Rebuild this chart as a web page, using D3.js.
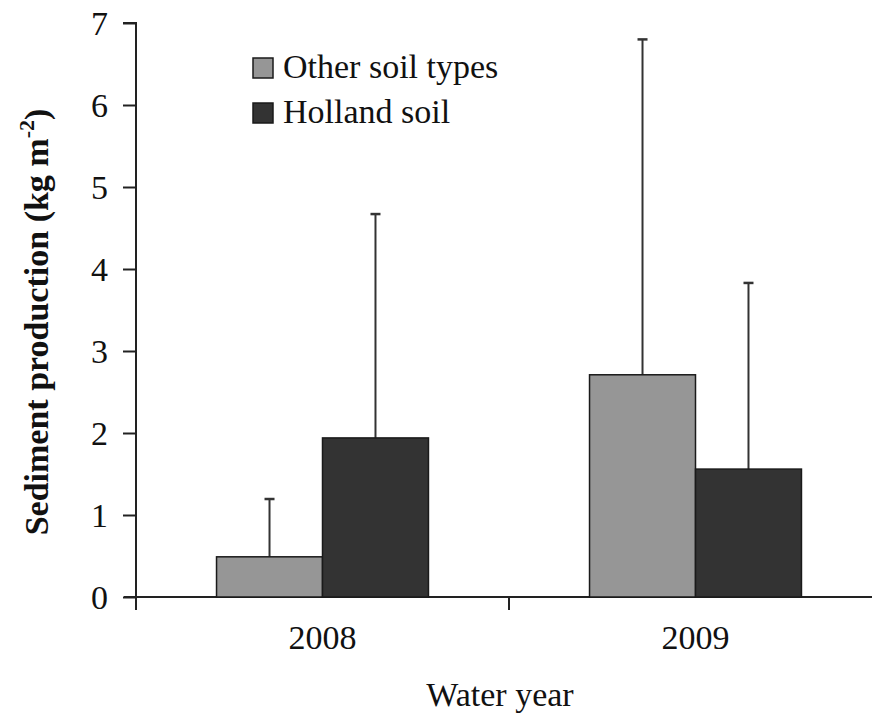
<!DOCTYPE html>
<html>
<head>
<meta charset="utf-8">
<script src="https://cdn.jsdelivr.net/npm/d3@7"></script>
<style>
  body { margin: 0; background: #fff; }
  svg { display: block; font-family: "Liberation Serif", "Times New Roman", serif; }
</style>
</head>
<body>
<script>
// data
const years = ["2008", "2009"];
const series = ["Other soil types", "Holland soil"];
const meanOther = [0.49, 2.71];
const meanHolland = [1.94, 1.56];
const topOther = [1.195, 6.8];     // top of error bar
const topHolland = [4.67, 3.83];
const yTicks = [0, 1, 2, 3, 4, 5, 6, 7];

const colors = { "Other soil types": "#969696", "Holland soil": "#333333" };

const w = 872;
const h = 719;

const data = years.map((yr, i) => ({
  year: yr,
  bars: [
    { s: series[0], v: meanOther[i], top: topOther[i] },
    { s: series[1], v: meanHolland[i], top: topHolland[i] }
  ]
}));

const svg = d3.select("body").append("svg")
  .attr("width", w)
  .attr("height", h);

const x0 = d3.scaleBand().domain(years).range([136, 882]).padding(0);
const x1 = d3.scaleBand().domain(series).range([0, x0.bandwidth()])
  .paddingInner(0).paddingOuter(0.76);
const y = d3.scaleLinear().domain([0, 7]).range([597, 23]);

// y axis
const yAxis = svg.append("g")
  .attr("transform", "translate(136,0)")
  .call(d3.axisLeft(y).tickValues(yTicks).tickFormat(d3.format("d")).tickSize(13).tickPadding(15));
yAxis.select(".domain").attr("d", "M-13,23H0V610").attr("stroke", "#222").attr("stroke-width", 2).attr("fill", "none");
yAxis.selectAll(".tick line").attr("stroke", "#222").attr("stroke-width", 2);
yAxis.selectAll(".tick text")
  .attr("font-size", 34)
  .attr("font-family", "Liberation Serif, serif")
  .attr("fill", "#111")
  .attr("dy", "0.34em");

// x axis
const xAxis = svg.append("g")
  .attr("transform", "translate(0,597)")
  .call(d3.axisBottom(x0).tickSize(0).tickPadding(28));
xAxis.select(".domain").attr("d", "M124,0H882").attr("stroke", "#222").attr("stroke-width", 2);
xAxis.selectAll(".tick text")
  .attr("font-size", 34)
  .attr("font-family", "Liberation Serif, serif")
  .attr("fill", "#111");

// category boundary ticks
xAxis.selectAll(".bound")
  .data(years)
  .enter()
  .append("line")
  .attr("class", "bound")
  .attr("x1", (d) => x0(d) + x0.bandwidth())
  .attr("x2", (d) => x0(d) + x0.bandwidth())
  .attr("y1", 0)
  .attr("y2", 13)
  .attr("stroke", "#222")
  .attr("stroke-width", 2);

// bars
const groups = svg.selectAll(".grp")
  .data(data)
  .enter()
  .append("g")
  .attr("class", "grp")
  .attr("transform", (d) => "translate(" + x0(d.year) + ",0)");

// error bars (drawn behind the bars)
groups.selectAll(".err")
  .data((d) => d.bars)
  .enter()
  .append("line")
  .attr("class", "err")
  .attr("x1", (d) => x1(d.s) + x1.bandwidth() / 2)
  .attr("x2", (d) => x1(d.s) + x1.bandwidth() / 2)
  .attr("y1", (d) => y(d.v))
  .attr("y2", (d) => y(d.top))
  .attr("stroke", "#333")
  .attr("stroke-width", 2);

groups.selectAll(".cap")
  .data((d) => d.bars)
  .enter()
  .append("line")
  .attr("class", "cap")
  .attr("x1", (d) => x1(d.s) + x1.bandwidth() / 2 - 5)
  .attr("x2", (d) => x1(d.s) + x1.bandwidth() / 2 + 5)
  .attr("y1", (d) => y(d.top))
  .attr("y2", (d) => y(d.top))
  .attr("stroke", "#333")
  .attr("stroke-width", 2.5);

groups.selectAll(".bar")
  .data((d) => d.bars)
  .enter()
  .append("rect")
  .attr("class", "bar")
  .attr("x", (d) => x1(d.s))
  .attr("y", (d) => y(d.v))
  .attr("width", x1.bandwidth())
  .attr("height", (d) => y(0) - y(d.v))
  .attr("fill", (d) => colors[d.s])
  .attr("stroke", "#1a1a1a")
  .attr("stroke-width", 1.5);

// axis titles
svg.append("text")
  .attr("x", 500)
  .attr("y", 706)
  .attr("text-anchor", "middle")
  .attr("font-size", 34)
  .attr("fill", "#111")
  .text("Water year");

const yl = svg.append("text")
  .attr("transform", "translate(48,322) rotate(-90)")
  .attr("text-anchor", "middle")
  .attr("font-size", 34)
  .attr("font-weight", "bold")
  .attr("fill", "#111");
yl.append("tspan").text("Sediment production (kg m");
yl.append("tspan").attr("font-size", 22).attr("dy", -14).text("-2");
yl.append("tspan").attr("dy", 14).text(")");

// legend
const legend = svg.selectAll(".leg")
  .data(series)
  .enter()
  .append("g")
  .attr("class", "leg")
  .attr("transform", (d, i) => "translate(253," + (58 + i * 45) + ")");

legend.append("rect")
  .attr("width", 20)
  .attr("height", 20)
  .attr("fill", (d) => colors[d])
  .attr("stroke", "#1a1a1a")
  .attr("stroke-width", 1.5);

legend.append("text")
  .attr("x", 30)
  .attr("y", 20)
  .attr("font-size", 34)
  .attr("fill", "#111")
  .text((d) => d);
</script>
</body>
</html>
